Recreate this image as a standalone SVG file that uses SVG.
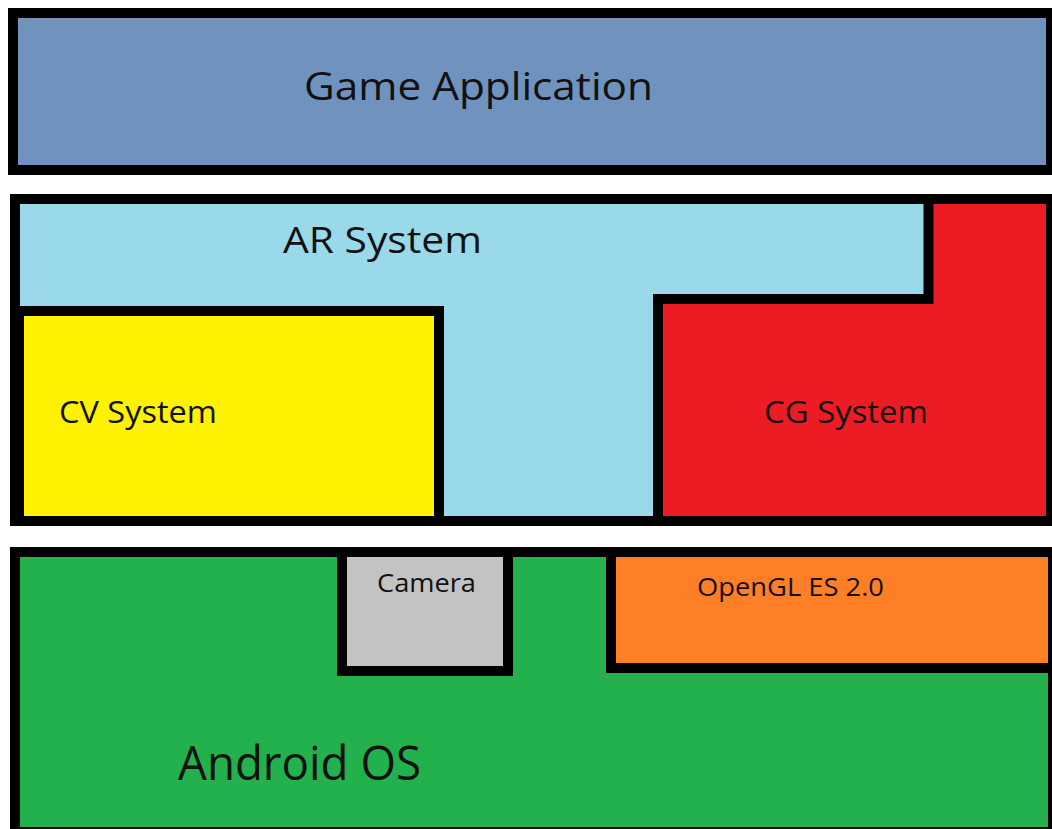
<svg xmlns="http://www.w3.org/2000/svg" width="1052" height="829" viewBox="0 0 1052 829">
<style>
.box{stroke:#000;stroke-width:10;stroke-linejoin:miter}
.t{font-family:"Open Sans","Liberation Sans",sans-serif;fill:#111}
</style>
<rect width="1052" height="829" fill="#fff"/>
<g id="game">
<rect class="box" x="13" y="13" width="1038" height="157" fill="#7092BE"/>
<text class="t" x="304" y="100" font-size="39" textLength="349" lengthAdjust="spacingAndGlyphs">Game Application</text>
</g>
<g id="ar">
<rect class="box" x="15" y="199" width="1036" height="322" fill="#99D9EA"/>
<text class="t" x="283" y="253" font-size="36" textLength="199" lengthAdjust="spacingAndGlyphs">AR System</text>
</g>
<g id="cv">
<rect class="box" x="19" y="311" width="420" height="210" fill="#FFF200"/>
<text class="t" x="59" y="423" font-size="31" textLength="158" lengthAdjust="spacingAndGlyphs">CV System</text>
</g>
<g id="cg">
<path class="box" d="M658,521 L658,299 L928.5,299 L928.5,199 L1051,199 L1051,521 Z" fill="#ED1C24"/>
<text class="t" x="764" y="423" font-size="31" textLength="164" lengthAdjust="spacingAndGlyphs">CG System</text>
</g>
<g id="android">
<rect class="box" x="15" y="552" width="1038" height="280" fill="#22B14C"/>
<text class="t" x="178" y="780" font-size="47" textLength="243" lengthAdjust="spacingAndGlyphs">Android OS</text>
</g>
<g id="camera">
<rect class="box" x="342" y="552" width="166" height="119" fill="#C3C3C3"/>
<text class="t" x="377" y="592" font-size="25" textLength="99" lengthAdjust="spacingAndGlyphs">Camera</text>
</g>
<g id="opengl">
<rect class="box" x="611" y="552" width="442" height="116" fill="#FF7F27"/>
<text class="t" x="697" y="596" font-size="26" textLength="187" lengthAdjust="spacingAndGlyphs">OpenGL ES 2.0</text>
</g>
<g id="connectors"></g>
</svg>
